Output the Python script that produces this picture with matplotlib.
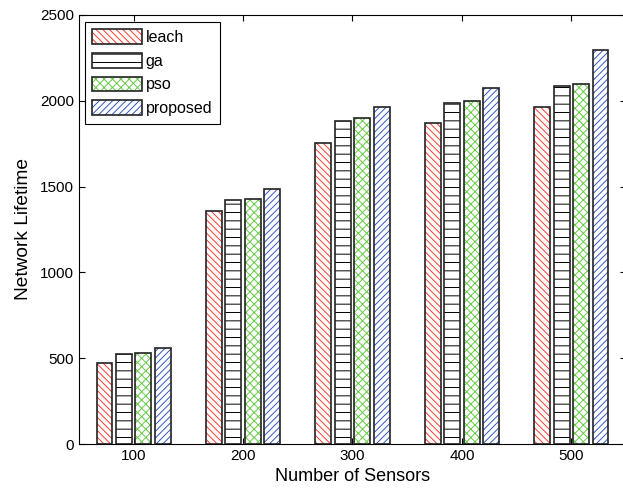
import numpy as np
import matplotlib
matplotlib.use("Agg")
import matplotlib.pyplot as plt
from matplotlib.legend_handler import HandlerTuple

plt.rcParams["font.family"] = ["Liberation Sans", "DejaVu Sans"]
plt.rcParams["hatch.linewidth"] = 0.7

# Network lifetime per method
sensors = [100, 200, 300, 400, 500]
leach = [473, 1355, 1755, 1870, 1965]
ga = [524, 1420, 1883, 1988, 2085]
pso = [530, 1430, 1898, 2001, 2096]
proposed = [558, 1488, 1964, 2073, 2295]

series = [
    ("leach", leach, "#ff3b2f", "\\" * 5),
    ("ga", ga, "black", "--"),
    ("pso", pso, "#66cc44", "xxxx"),
    ("proposed", proposed, "#3355cc", "/" * 5),
]

fig = plt.figure(figsize=(6.23, 4.99), dpi=100)
ax = fig.add_axes([0.1268, 0.1102, 0.878, 0.860])

x = np.array(sensors, dtype=float)
pitch = 17.8
width = 14.6
handles = []
for i, (name, vals, col, hatch) in enumerate(series):
    pos = x + (i - 1.5) * pitch
    hb = ax.bar(pos, vals, width, color="white", edgecolor=col,
                hatch=hatch, linewidth=0, zorder=2)
    eb = ax.bar(pos, vals, width, fill=False, edgecolor="#222222",
                linewidth=1.2, zorder=3)
    handles.append((hb[0], eb[0]))

ax.set_xlim(50, 550)
ax.set_ylim(0, 2500)
ax.set_xticks(sensors)
ax.set_yticks(range(0, 2501, 500))
ax.tick_params(direction="in", top=True, right=True, length=4,
               labelsize=11, width=0.8)
for s in ax.spines.values():
    s.set_linewidth(0.8)
ax.set_axisbelow(False)

ax.set_xlabel("Number of Sensors", fontsize=13)
ax.set_ylabel("Network Lifetime", fontsize=13.8, labelpad=6)

leg = ax.legend(handles, [s[0] for s in series],
                handler_map={tuple: HandlerTuple(ndivide=1, pad=0)},
                loc="upper left", bbox_to_anchor=(0.011, 0.984),
                borderaxespad=0,
                fontsize=11.5, handlelength=3.1, handleheight=1.05,
                handletextpad=0.25, labelspacing=0.5, borderpad=0.45,
                fancybox=False, framealpha=1, edgecolor="black")
leg.get_frame().set_linewidth(0.8)

fig.savefig("out.png", dpi=100)
